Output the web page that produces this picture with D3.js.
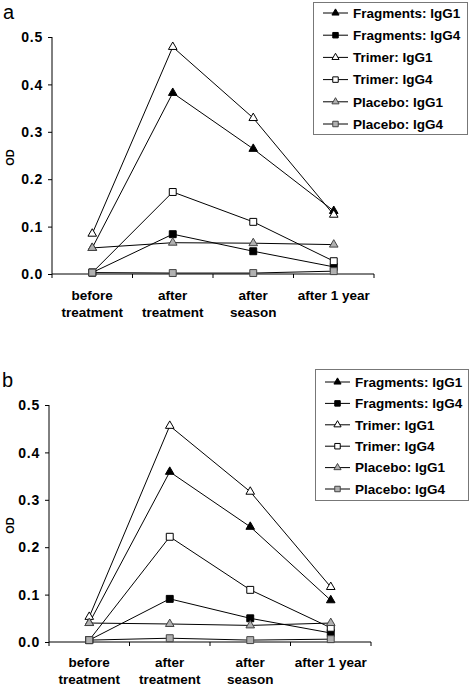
<!DOCTYPE html>
<html><head><meta charset="utf-8">
<script src="https://cdn.jsdelivr.net/npm/d3@7"></script>
<style>
html,body{margin:0;padding:0;background:#fff;}
svg{display:block;font-family:"Liberation Sans",Arial,sans-serif;}
</style></head>
<body>
<svg id="chart" width="472" height="686"></svg>
<script>
const categories = [["before","treatment"],["after","treatment"],["after","season"],["after 1 year"]];
const seriesNames = ["Fragments: IgG1","Fragments: IgG4","Trimer: IgG1","Trimer: IgG4","Placebo: IgG1","Placebo: IgG4"];
const yTicks = [0.0,0.1,0.2,0.3,0.4,0.5];
// Panel a values
const aFragIgG1 = [0.055, 0.382, 0.264, 0.133];
const aFragIgG4 = [0.003, 0.084, 0.048, 0.015];
const aTrimIgG1 = [0.085, 0.479, 0.329, 0.125];
const aTrimIgG4 = [0.003, 0.173, 0.110, 0.027];
const aPlacIgG1 = [0.055, 0.066, 0.065, 0.062];
const aPlacIgG4 = [0.003, 0.002, 0.002, 0.006];
// Panel b values
const bFragIgG1 = [0.040, 0.359, 0.243, 0.088];
const bFragIgG4 = [0.004, 0.091, 0.050, 0.019];
const bTrimIgG1 = [0.053, 0.456, 0.317, 0.116];
const bTrimIgG4 = [0.004, 0.222, 0.110, 0.030];
const bPlacIgG1 = [0.040, 0.038, 0.035, 0.040];
const bPlacIgG4 = [0.004, 0.008, 0.004, 0.006];

const styles = [
  {shape:"tri", fill:"#000", stroke:"#000"},
  {shape:"sq",  fill:"#000", stroke:"#000"},
  {shape:"tri", fill:"#fff", stroke:"#000"},
  {shape:"sq",  fill:"#fff", stroke:"#000"},
  {shape:"tri", fill:"#b0b0b0", stroke:"#444"},
  {shape:"sq",  fill:"#b0b0b0", stroke:"#444"}
];

const svg = d3.select("#chart");

function sym(shape, big){
  if(shape==="tri") return d3.symbol().type(d3.symbolTriangle).size(big?32:22)();
  return d3.symbol().type(d3.symbolSquare).size(big?48:30)();
}

function panel(cfg){
  const g = svg.append("g");
  const x = d3.scaleBand().domain(d3.range(categories.length)).range([cfg.x0,cfg.x1]).padding(0);
  const y = d3.scaleLinear().domain([0,0.5]).range([cfg.yb,cfg.yt]);
  const cx = i => x(i)+x.bandwidth()/2;

  g.append("text").attr("x",cfg.letterX).attr("y",cfg.letterY).attr("font-size",20).attr("fill","#000").text(cfg.letter);

  const ya = g.append("g").attr("transform",`translate(${cfg.x0},0)`)
    .call(d3.axisLeft(y).tickValues(yTicks).tickFormat(d3.format(".1f")).tickSize(4).tickPadding(5));
  ya.select(".domain").attr("stroke","#000").attr("d",`M0,${cfg.yb}V${cfg.yt}`);
  ya.selectAll(".tick line").attr("stroke","#000");
  ya.selectAll(".tick text").attr("font-size",14).attr("font-weight","bold").attr("font-family","Liberation Sans, Arial, sans-serif").attr("fill","#000").attr("letter-spacing","0.8px").attr("dy","0.34em");

  const xa = g.append("g").attr("transform",`translate(0,${cfg.yb})`);
  xa.append("line").attr("x1",cfg.x0).attr("x2",cfg.x1).attr("stroke","#000");
  const bounds = d3.range(categories.length+1).map(i => i<categories.length ? x(i) : cfg.x1);
  xa.selectAll("line.tk").data(bounds).join("line").attr("class","tk")
    .attr("x1",d=>d).attr("x2",d=>d).attr("y1",0).attr("y2",4).attr("stroke","#000");
  categories.forEach((lines,i)=>{
    lines.forEach((t,j)=>{
      xa.append("text").attr("x",cx(i)).attr("y",cfg.lab1+j*17).attr("text-anchor","middle")
        .attr("font-size",13.5).attr("font-weight","bold").attr("fill","#000").text(t);
    });
  });

  g.append("text").attr("transform",`translate(${cfg.odX},${(cfg.yb+cfg.yt)/2+2}) rotate(-90)`)
    .attr("text-anchor","middle").attr("dy","0.35em").attr("font-size",11).attr("font-weight","bold").attr("fill","#000").text("OD");

  cfg.data.forEach((vals,si)=>{
    const st = styles[si];
    const line = d3.line().x((d,i)=>cx(i)).y(d=>y(d));
    g.append("path").attr("d",line(vals)).attr("fill","none").attr("stroke","#000").attr("stroke-width",1);
    g.selectAll(null).data(vals).join("path")
      .attr("transform",(d,i)=>`translate(${cx(i)},${y(d)})`)
      .attr("d",sym(st.shape,true)).attr("fill",st.fill).attr("stroke",st.stroke).attr("stroke-width",1);
  });

  const L = cfg.legend;
  g.append("rect").attr("x",L.x+0.5).attr("y",L.y+0.5).attr("width",L.w).attr("height",L.h)
    .attr("fill","#fff").attr("stroke","#777").attr("stroke-width",1);
  seriesNames.forEach((name,si)=>{
    const st = styles[si];
    const yy = L.y + L.first + si*L.step;
    g.append("line").attr("x1",L.x+10).attr("x2",L.x+35).attr("y1",yy).attr("y2",yy).attr("stroke","#000");
    g.append("path").attr("transform",`translate(${L.x+22.5},${yy})`).attr("d",sym(st.shape,false))
      .attr("fill",st.fill).attr("stroke",st.stroke).attr("stroke-width",1);
    g.append("text").attr("x",L.x+40).attr("y",yy).attr("dy","0.36em").attr("font-size",13.5)
      .attr("font-weight","bold").attr("fill","#000").text(name);
  });
}

panel({letter:"a", letterX:3, letterY:19, x0:52, x1:374, yb:274, yt:37, odX:10, lab1:26,
  data:[aFragIgG1,aFragIgG4,aTrimIgG1,aTrimIgG4,aPlacIgG1,aPlacIgG4],
  legend:{x:313, y:2, w:154, h:132, first:11, step:22.2}});
panel({letter:"b", letterX:2, letterY:387, x0:49, x1:371, yb:642, yt:405, odX:10, lab1:25,
  data:[bFragIgG1,bFragIgG4,bTrimIgG1,bTrimIgG4,bPlacIgG1,bPlacIgG4],
  legend:{x:315, y:369, w:153, h:131, first:13, step:21.4}});
</script>
</body></html>
